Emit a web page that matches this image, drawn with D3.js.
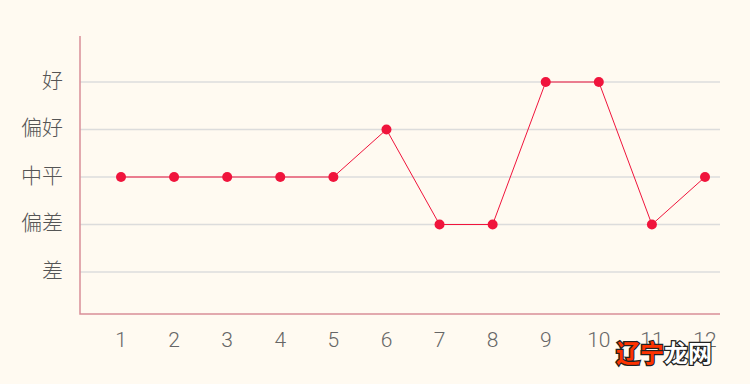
<!DOCTYPE html>
<html>
<head>
<meta charset="utf-8">
<script src="https://cdn.jsdelivr.net/npm/d3@7"></script>
<style>
  body { margin: 0; background: #fffaf1; }
  svg { display: block; font-family: "Noto Sans CJK SC", "Noto Sans", sans-serif; }
</style>
</head>
<body>
<svg id="chart" width="750" height="384"></svg>
<script>
// months along x, fortune level per month (0 = 差 ... 4 = 好)
const months = ['1', '2', '3', '4', '5', '6', '7', '8', '9', '10', '11', '12'];
const levelLabels = ['差', '偏差', '中平', '偏好', '好'];
const fortune = [2, 2, 2, 2, 2, 3, 1, 1, 4, 4, 1, 2];

const svg = d3.select('#chart');
const axisColor = '#d98e98';
const lineColor = '#f0143c';

const x = d3.scalePoint().domain(months).range([121, 705]);
const y = d3.scaleLinear().domain([0, 4]).range([272, 82]);

const plotLeft = 80, plotRight = 720, plotTop = 36, plotBottom = 314;

// grid lines
svg.append('g')
    .selectAll('line')
    .data(levelLabels)
    .join('line')
    .attr('x1', plotLeft)
    .attr('x2', plotRight)
    .attr('y1', (d, i) => y(i))
    .attr('y2', (d, i) => y(i))
    .attr('stroke', '#dcdcdc')
    .attr('stroke-width', 1.3);

// y labels
svg.append('g')
    .selectAll('text')
    .data(levelLabels)
    .join('text')
    .attr('x', 63)
    .attr('y', (d, i) => y(i))
    .attr('dy', '0.28em')
    .attr('text-anchor', 'end')
    .attr('font-size', 21)
    .attr('font-weight', 300)
    .attr('fill', '#555')
    .text(d => d);

// x labels
svg.append('g')
    .selectAll('text')
    .data(months)
    .join('text')
    .attr('x', d => x(d))
    .attr('y', 347)
    .attr('text-anchor', 'middle')
    .attr('font-family', 'Roboto, "Open Sans", sans-serif')
    .attr('font-size', 21)
    .attr('font-weight', 300)
    .attr('fill', '#666')
    .text(d => d);

// axes
svg.append('path')
    .attr('d', `M${plotLeft},${plotTop}V${plotBottom}H${plotRight}`)
    .attr('fill', 'none')
    .attr('stroke', axisColor)
    .attr('stroke-width', 1.5);

// line + dots
const line = d3.line()
    .x((d, i) => x(months[i]))
    .y(d => y(d));

svg.append('path')
    .datum(fortune)
    .attr('d', line)
    .attr('fill', 'none')
    .attr('stroke', lineColor)
    .attr('stroke-width', 1);

svg.append('g')
    .selectAll('circle')
    .data(fortune)
    .join('circle')
    .attr('cx', (d, i) => x(months[i]))
    .attr('cy', d => y(d))
    .attr('r', 5)
    .attr('fill', lineColor);

// watermark
const wm = svg.append('text')
    .attr('x', 616)
    .attr('y', 362)
    .attr('font-size', 24)
    .attr('font-weight', 'bold')
    .attr('stroke', '#222')
    .attr('stroke-width', 2.5)
    .attr('paint-order', 'stroke');
wm.append('tspan').attr('fill', '#ff3300').text('辽宁');
wm.append('tspan').attr('fill', '#fff').text('龙网');
</script>
</body>
</html>
